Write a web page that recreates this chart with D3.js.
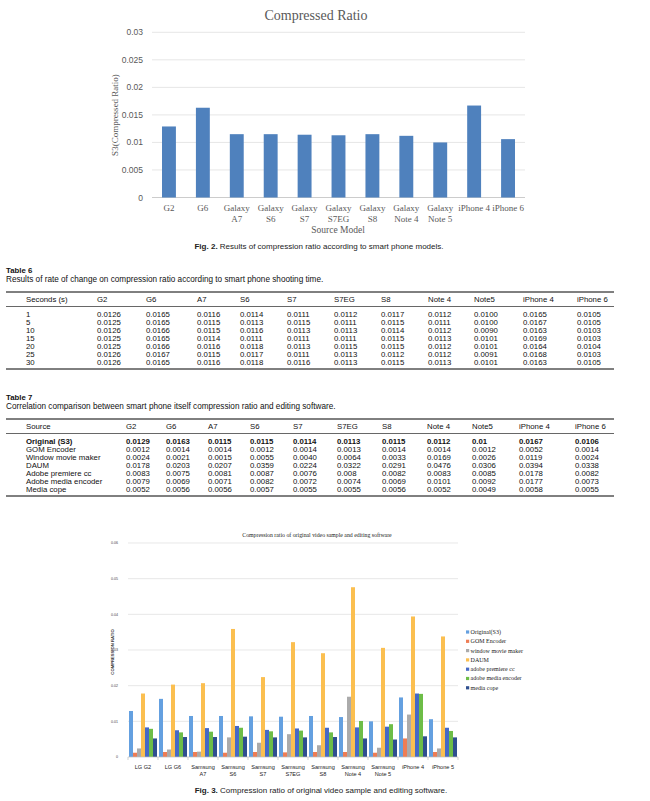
<!DOCTYPE html>
<html><head><meta charset="utf-8">
<script src="https://cdn.jsdelivr.net/npm/d3@7"></script>
<style>html,body{margin:0;padding:0;background:#fff}svg{display:block}</style>
</head><body>
<svg id="c" width="650" height="801"></svg>
<script>
// ---------- DATA ----------
const modelLabels = ["G2","G6","Galaxy\nA7","Galaxy\nS6","Galaxy\nS7","Galaxy\nS7EG","Galaxy\nS8","Galaxy\nNote 4","Galaxy\nNote 5","iPhone 4","iPhone 6"];
const tableCols = ["G2","G6","A7","S6","S7","S7EG","S8","Note 4","Note5","iPhone 4","iPhone 6"];
const yTicksTop = [0,0.005,0.01,0.015,0.02,0.025,0.03];

const t6Seconds = ["1","5","10","15","20","25","30"];
const t6s1  = ["0.0126","0.0165","0.0116","0.0114","0.0111","0.0112","0.0117","0.0112","0.0100","0.0165","0.0105"];
const t6s5  = ["0.0125","0.0165","0.0115","0.0113","0.0115","0.0111","0.0115","0.0111","0.0100","0.0167","0.0105"];
const t6s10 = ["0.0126","0.0166","0.0115","0.0116","0.0113","0.0113","0.0114","0.0112","0.0090","0.0163","0.0103"];
const t6s15 = ["0.0125","0.0165","0.0114","0.0111","0.0111","0.0111","0.0115","0.0113","0.0101","0.0169","0.0103"];
const t6s20 = ["0.0125","0.0166","0.0116","0.0118","0.0113","0.0115","0.0115","0.0112","0.0101","0.0164","0.0104"];
const t6s25 = ["0.0126","0.0167","0.0115","0.0117","0.0111","0.0113","0.0112","0.0112","0.0091","0.0168","0.0103"];
const t6s30 = ["0.0126","0.0165","0.0116","0.0118","0.0116","0.0113","0.0115","0.0113","0.0101","0.0163","0.0105"];

const t7Sources = ["Original (S3)","GOM Encoder","Window movie maker","DAUM","Adobe premiere cc","Adobe media encoder","Media cope"];
const original   = ["0.0129","0.0163","0.0115","0.0115","0.0114","0.0113","0.0115","0.0112","0.01","0.0167","0.0106"];
const gom        = ["0.0012","0.0014","0.0014","0.0012","0.0014","0.0013","0.0014","0.0014","0.0012","0.0052","0.0014"];
const wmm        = ["0.0024","0.0021","0.0015","0.0055","0.0040","0.0064","0.0033","0.0169","0.0026","0.0119","0.0024"];
const daum       = ["0.0178","0.0203","0.0207","0.0359","0.0224","0.0322","0.0291","0.0476","0.0306","0.0394","0.0338"];
const premiere   = ["0.0083","0.0075","0.0081","0.0087","0.0076","0.008","0.0082","0.0083","0.0085","0.0178","0.0082"];
const mediaEnc   = ["0.0079","0.0069","0.0071","0.0082","0.0072","0.0074","0.0069","0.0101","0.0092","0.0177","0.0073"];
const mediaCope  = ["0.0052","0.0056","0.0056","0.0057","0.0055","0.0055","0.0056","0.0052","0.0049","0.0058","0.0055"];

const fig3Groups = ["LG G2","LG G6","Samsung\nA7","Samsung\nS6","Samsung\nS7","Samsung\nS7EG","Samsung\nS8","Samsung\nNote 4","Samsung\nNote 5","iPhone 4","iPhone 5"];
const fig3Series = ["Original(S3)","GOM Encoder","window movie maker","DAUM","adobe premiere cc","adobe media encoder","media cope"];
const fig3Colors = ["#64a0e0","#ee7d55","#ababab","#fbbf50","#4669c6","#6dbd47","#2f4f8f"];
const yTicksBot = [0,0.01,0.02,0.03,0.04,0.05,0.06];

// ---------- DRAW ----------
const svg = d3.select("#c");
const SERIF = "'Liberation Serif','Times New Roman',serif";
const SANS = "'Liberation Sans',Arial,sans-serif";

// ===== Figure 2 =====
const g2 = svg.append("g");
const xT = d3.scaleBand().domain(modelLabels).range([152,525]).paddingInner(0.59).paddingOuter(0.295);
const yT = d3.scaleLinear().domain([0,0.03]).range([197.5,32.3]);

g2.append("text").attr("x",316).attr("y",20).attr("text-anchor","middle")
  .attr("font-family",SERIF).attr("font-size",14).attr("fill","#595959").text("Compressed Ratio");

g2.append("g").selectAll("line").data(yTicksTop).join("line")
  .attr("x1",152).attr("x2",525).attr("y1",d=>yT(d)).attr("y2",d=>yT(d))
  .attr("stroke",d=>d===0?"#bfbfbf":"#e0e0e0").attr("stroke-width",0.8);
g2.append("g").selectAll("text").data(yTicksTop).join("text")
  .attr("x",143).attr("y",d=>yT(d)+3).attr("text-anchor","end")
  .attr("font-family",SANS).attr("font-size",8.5).attr("fill","#595959").text(d=>d===0?"0":String(d));

g2.append("g").selectAll("rect").data(original).join("rect")
  .attr("x",(d,i)=>xT(modelLabels[i])).attr("width",xT.bandwidth())
  .attr("y",d=>yT(+d)).attr("height",d=>yT(0)-yT(+d)).attr("fill","#4f81bd");

const xl = g2.append("g").selectAll("text").data(modelLabels).join("text")
  .attr("text-anchor","middle").attr("font-family",SERIF).attr("font-size",9).attr("fill","#595959");
xl.each(function(d){
  const t=d3.select(this); const cx=xT(d)+xT.bandwidth()/2;
  d.split("\n").forEach((s,k)=>t.append("tspan").attr("x",cx).attr("y",211+k*10.5).text(s));
});
g2.append("text").attr("x",338).attr("y",233).attr("text-anchor","middle")
  .attr("font-family",SERIF).attr("font-size",9.5).attr("fill","#595959").text("Source Model");
g2.append("text").attr("transform","translate(118,115) rotate(-90)").attr("text-anchor","middle")
  .attr("font-family",SERIF).attr("font-size",9).attr("fill","#595959").text("S3(Compressed Ratio)");

function caption(x,y,bold,rest,size){
  const t=svg.append("text").attr("x",x).attr("y",y).attr("text-anchor","middle")
    .attr("font-family",SANS).attr("font-size",size).attr("fill","#222");
  t.append("tspan").attr("font-weight","bold").text(bold);
  t.append("tspan").text(rest);
}
caption(319,248.5,"Fig. 2. ","Results of compression ratio according to smart phone models.",8);

// ===== Tables =====
const TF = 7.8;
function drawTable(o){
  const g=svg.append("g").attr("font-family",SANS).attr("fill","#111");
  g.append("text").attr("x",6).attr("y",o.top-19).attr("font-size",TF).attr("font-weight","bold").text(o.label);
  g.append("text").attr("x",6).attr("y",o.top-10).attr("font-size",8.2).text(o.caption);
  g.append("line").attr("x1",6).attr("x2",614).attr("y1",o.top).attr("y2",o.top).attr("stroke","#000").attr("stroke-width",1);
  const hdr=[o.first].concat(tableCols);
  g.append("g").selectAll("text").data(hdr).join("text")
    .attr("x",(d,i)=>o.colX[i]).attr("y",o.top+10).attr("font-size",TF).text(d=>d);
  g.append("line").attr("x1",6).attr("x2",614).attr("y1",o.top+14.5).attr("y2",o.top+14.5).attr("stroke","#000").attr("stroke-width",0.6);
  o.rows.forEach((r,ri)=>{
    const vals=[o.rowNames[ri]].concat(r);
    g.append("g").selectAll("text").data(vals).join("text")
      .attr("x",(d,i)=>o.colX[i]).attr("y",o.top+24.5+ri*o.step).attr("font-size",TF)
      .attr("font-weight",(o.boldFirst&&ri===0)?"bold":null).text(d=>d);
  });
  const by=o.top+24.5+(o.rows.length-1)*o.step+4.5;
  g.append("line").attr("x1",6).attr("x2",614).attr("y1",by).attr("y2",by).attr("stroke","#000").attr("stroke-width",1);
}
drawTable({label:"Table 6",caption:"Results of rate of change on compression ratio according to smart phone shooting time.",
  top:292,first:"Seconds (s)",colX:[26,97,146,197,240,287,334,381,428,474,523,577],
  rowNames:t6Seconds,rows:[t6s1,t6s5,t6s10,t6s15,t6s20,t6s25,t6s30],step:8});
drawTable({label:"Table 7",caption:"Correlation comparison between smart phone itself compression ratio and editing software.",
  top:419,first:"Source",colX:[26,126,166,208,250,293,337,382,427,472,519,575],
  rowNames:t7Sources,rows:[original,gom,wmm,daum,premiere,mediaEnc,mediaCope],step:8,boldFirst:true});

// ===== Figure 3 =====
const g3 = svg.append("g");
const x0 = d3.scaleBand().domain(fig3Groups).range([128,458]);
const x1 = d3.scaleBand().domain(fig3Series).range([1,29]);
const yB = d3.scaleLinear().domain([0,0.06]).range([757,543]);
const seriesData = [original,gom,wmm,daum,premiere,mediaEnc,mediaCope];

g3.append("text").attr("x",317).attr("y",537).attr("text-anchor","middle")
  .attr("font-family",SERIF).attr("font-size",5.8).attr("fill","#222").text("Compression ratio of original video sample and editing software");

g3.append("g").selectAll("line").data(yTicksBot.filter(d=>d>0)).join("line")
  .attr("x1",128).attr("x2",458).attr("y1",d=>yB(d)).attr("y2",d=>yB(d))
  .attr("stroke","#dedede").attr("stroke-width",0.7);
g3.append("g").selectAll("text").data(yTicksBot).join("text")
  .attr("x",118).attr("y",d=>yB(d)+1.3).attr("text-anchor","end")
  .attr("font-family",SANS).attr("font-size",3.6).attr("fill","#444").text(d=>d===0?"0":d.toFixed(2));
g3.append("text").attr("transform","translate(114,652) rotate(-90)").attr("text-anchor","middle")
  .attr("font-family",SANS).attr("font-size",4.2).attr("font-weight","bold").attr("fill","#333").text("COMPRESSION RATIO");

const grp = g3.append("g").selectAll("g").data(fig3Groups).join("g")
  .attr("transform",d=>`translate(${x0(d)},0)`);
grp.selectAll("rect").data((d,gi)=>seriesData.map((s,si)=>({s:fig3Series[si],v:+s[gi],c:fig3Colors[si]}))).join("rect")
  .attr("x",d=>x1(d.s)).attr("width",x1.bandwidth()).attr("y",d=>yB(d.v)).attr("height",d=>yB(0)-yB(d.v)).attr("fill",d=>d.c);

g3.append("line").attr("x1",128).attr("x2",458).attr("y1",757).attr("y2",757).attr("stroke","#bfbfbf").attr("stroke-width",0.7);
g3.append("g").selectAll("line").data(d3.range(fig3Groups.length+1)).join("line")
  .attr("x1",i=>128+i*x0.step()).attr("x2",i=>128+i*x0.step()).attr("y1",757).attr("y2",760)
  .attr("stroke","#bfbfbf").attr("stroke-width",0.7);

const bl = g3.append("g").selectAll("text").data(fig3Groups).join("text")
  .attr("text-anchor","middle").attr("font-family",SANS).attr("font-size",5.6).attr("fill","#222");
bl.each(function(d){
  const t=d3.select(this); const cx=x0(d)+x0.bandwidth()/2;
  d.split("\n").forEach((s,k)=>t.append("tspan").attr("x",cx).attr("y",769+k*6.5).text(s));
});

const lg = g3.append("g").selectAll("g").data(fig3Series).join("g")
  .attr("transform",(d,i)=>`translate(466,${632+i*9.3})`);
lg.append("rect").attr("x",0).attr("y",-1.6).attr("width",3.2).attr("height",3.2).attr("fill",(d,i)=>fig3Colors[i]);
lg.append("text").attr("x",4.6).attr("y",1.9).attr("font-family",SERIF).attr("font-size",6).attr("fill","#222").text(d=>d);

caption(321,793,"Fig. 3. ","Compression ratio of original video sample and editing software.",8);
</script>
</body></html>
